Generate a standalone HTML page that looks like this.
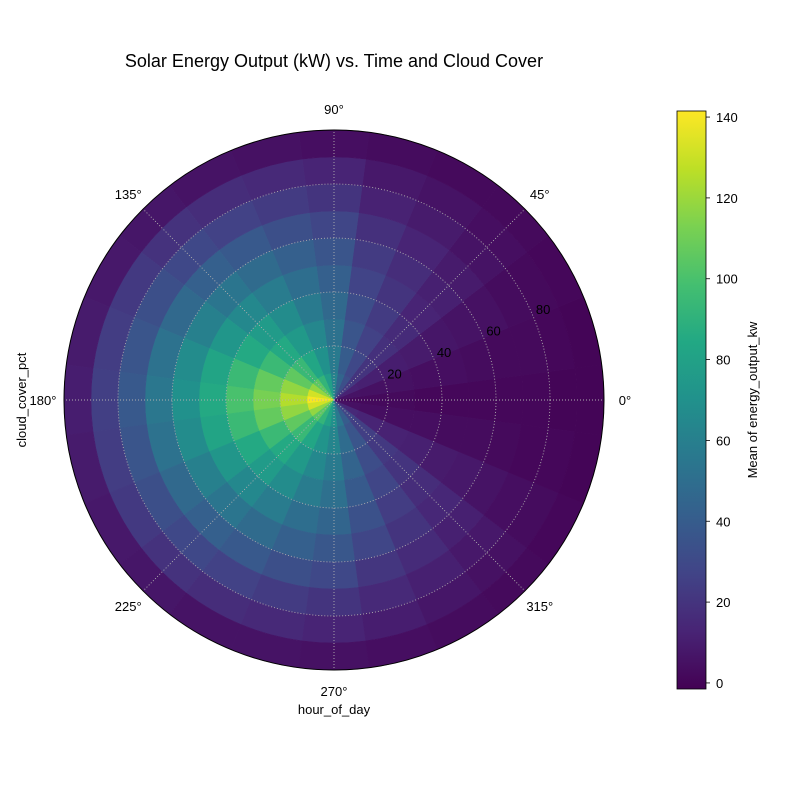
<!DOCTYPE html>
<html><head><meta charset="utf-8"><style>
html,body{margin:0;padding:0;background:#fff;}
svg{display:block;font-family:"Liberation Sans",sans-serif;}
</style></head><body>
<svg id="chart" width="800" height="800" viewBox="0 0 800 800">
<text x="334" y="67" font-size="18" text-anchor="middle">Solar Energy Output (kW) vs. Time and Cloud Cover</text>
<g id="cells"></g>
<g id="grid"></g>
<g id="labels"></g>
<g id="cbar"></g>
<text x="334" y="714" font-size="13" text-anchor="middle">hour_of_day</text>
<text x="0" y="0" font-size="13" text-anchor="middle" transform="translate(26,400) rotate(-90)">cloud_cover_pct</text>
<text x="0" y="0" font-size="13" text-anchor="middle" transform="translate(757,400) rotate(-90)">Mean of energy_output_kw</text>
</svg>
<script>
const hours = [0,1,2,3,4,5,6,7,8,9,10,11,12,13,14,15,16,17,18,19,20,21,22,23];
const cloudBins = [0,10,20,30,40,50,60,70,80,90];
const values = [
[2,2,2,1,1,1,1,1,0,0],
[6,5,5,4,4,3,2,2,1,0],
[12,11,10,9,7,6,5,3,2,1],
[22,20,18,16,13,11,9,6,4,2],
[33,29,26,23,20,17,13,9,6,2],
[45,40,36,32,27,23,18,12,8,3],
[62,57,52,47,42,36,28,20,13,4],
[78,70,64,57,50,42,33,23,15,5],
[92,83,75,67,58,48,38,26,17,6],
[105,94,85,76,65,54,42,29,19,7],
[118,106,95,85,73,60,47,33,22,8],
[132,118,107,95,82,67,52,36,24,9],
[140,125,112,100,85,70,55,38,25,10],
[132,118,107,95,82,67,52,36,24,9],
[118,106,95,85,73,60,47,33,22,8],
[105,94,85,76,65,54,42,29,19,7],
[92,83,75,67,58,48,38,26,17,6],
[80,72,65,58,50,42,33,23,15,6],
[70,63,57,51,45,37,29,20,13,5],
[55,49,44,39,34,28,21,15,10,4],
[40,36,32,28,24,20,16,11,7,3],
[28,25,22,20,17,14,11,8,5,2],
[15,13,12,11,9,8,6,4,3,1],
[5,4,4,4,3,3,2,1,1,0]
];
const radialTicks = [20,40,60,80];
const angleTicks = [0,45,90,135,180,225,270,315];
const cbarTicks = [0,20,40,60,80,100,120,140];
const vmin = -1.5, vmax = 141.5;

const NS = "http://www.w3.org/2000/svg";
const cx = 334, cy = 400, R = 270, rmax = 100;
const rScale = v => v / rmax * R;
const aScale = h => h * 15;
const viridis = ["#440154","#482475","#414487","#355f8d","#2a788e","#21918c","#22a884","#44bf70","#7ad151","#bddf26","#fde725"];
function hexToRgb(h){return [1,3,5].map(i=>parseInt(h.substr(i,2),16));}
function color(v){
  let t = Math.max(0, Math.min(1, (v - vmin) / (vmax - vmin))) * (viridis.length - 1);
  let i = Math.min(Math.floor(t), viridis.length - 2), f = t - i;
  const a = hexToRgb(viridis[i]), b = hexToRgb(viridis[i+1]);
  return "rgb(" + a.map((x,k)=>Math.round(x + (b[k]-x)*f)).join(",") + ")";
}
function pt(r, deg){const a = deg*Math.PI/180; return [cx + r*Math.cos(a), cy - r*Math.sin(a)];}
function mk(tag, attrs, parent){const e = document.createElementNS(NS, tag); for (const k in attrs) e.setAttribute(k, attrs[k]); parent.appendChild(e); return e;}

const cells = document.getElementById("cells");
hours.forEach((h, hi) => {
  cloudBins.forEach((c, ci) => {
    const r0 = rScale(c), r1 = rScale(c + 10);
    const a0 = aScale(h) - 7.5, a1 = aScale(h) + 7.5;
    const p1 = pt(r0, a0), p2 = pt(r1, a0), p3 = pt(r1, a1), p4 = pt(r0, a1);
    const d = `M${p1}L${p2}A${r1},${r1} 0 0 0 ${p3}L${p4}` + (r0 > 0 ? `A${r0},${r0} 0 0 1 ${p1}Z` : "Z");
    const col = color(values[hi][ci]);
    const el = mk("path", {d: d, fill: col, stroke: col, "stroke-width": 0.5}, cells);
    
    
  });
});

const grid = document.getElementById("grid");
radialTicks.forEach(t => {
  const el = mk("circle", {cx: cx, cy: cy, r: rScale(t), fill: "none", stroke: "#b0b0b0", "stroke-width": 0.9, "stroke-dasharray": "1,2"}, grid);
  
  
});
angleTicks.forEach(a => {
  const p = pt(R, a);
  const el = mk("line", {x1: cx, y1: cy, x2: p[0], y2: p[1], stroke: "#b0b0b0", "stroke-width": 0.9, "stroke-dasharray": "1,2"}, grid);
  
  
});
const outer = mk("circle", {cx: cx, cy: cy, r: R, fill: "none", stroke: "#000", "stroke-width": 1}, grid);



const labels = document.getElementById("labels");
angleTicks.forEach(a => {
  const p = pt(R + 21, a);
  const el = mk("text", {x: p[0], y: p[1] + 5, "font-size": 13, "text-anchor": "middle"}, labels);
  el.textContent = a + "°";
  
  
});
radialTicks.forEach(t => {
  const p = pt(rScale(t) + 12, 23.5);
  const el = mk("text", {x: p[0], y: p[1] + 5, "font-size": 13, "text-anchor": "middle"}, labels);
  el.textContent = t;
  
  
});

const cbar = document.getElementById("cbar");
const cbX = 677, cbW = 29, cbTop = 111, cbBot = 689;
const cbY = v => cbBot - (v - vmin) / (vmax - vmin) * (cbBot - cbTop);
const defs = mk("defs", {}, cbar);
const grad = mk("linearGradient", {id: "vg", x1: 0, y1: 1, x2: 0, y2: 0}, defs);
viridis.forEach((c, i) => mk("stop", {offset: i/(viridis.length-1), "stop-color": c}, grad));
const rect = mk("rect", {x: cbX, y: cbTop, width: cbW, height: cbBot - cbTop, fill: "url(#vg)", stroke: "#000", "stroke-width": 0.8}, cbar);


cbarTicks.forEach(t => {
  const y = cbY(t);
  const tk = mk("line", {x1: cbX + cbW, y1: y, x2: cbX + cbW + 4, y2: y, stroke: "#000", "stroke-width": 0.8}, cbar);
  
  
  const tx = mk("text", {x: cbX + cbW + 10, y: y + 5, "font-size": 13}, cbar);
  tx.textContent = t;
  
  
});
</script>
</body></html>
